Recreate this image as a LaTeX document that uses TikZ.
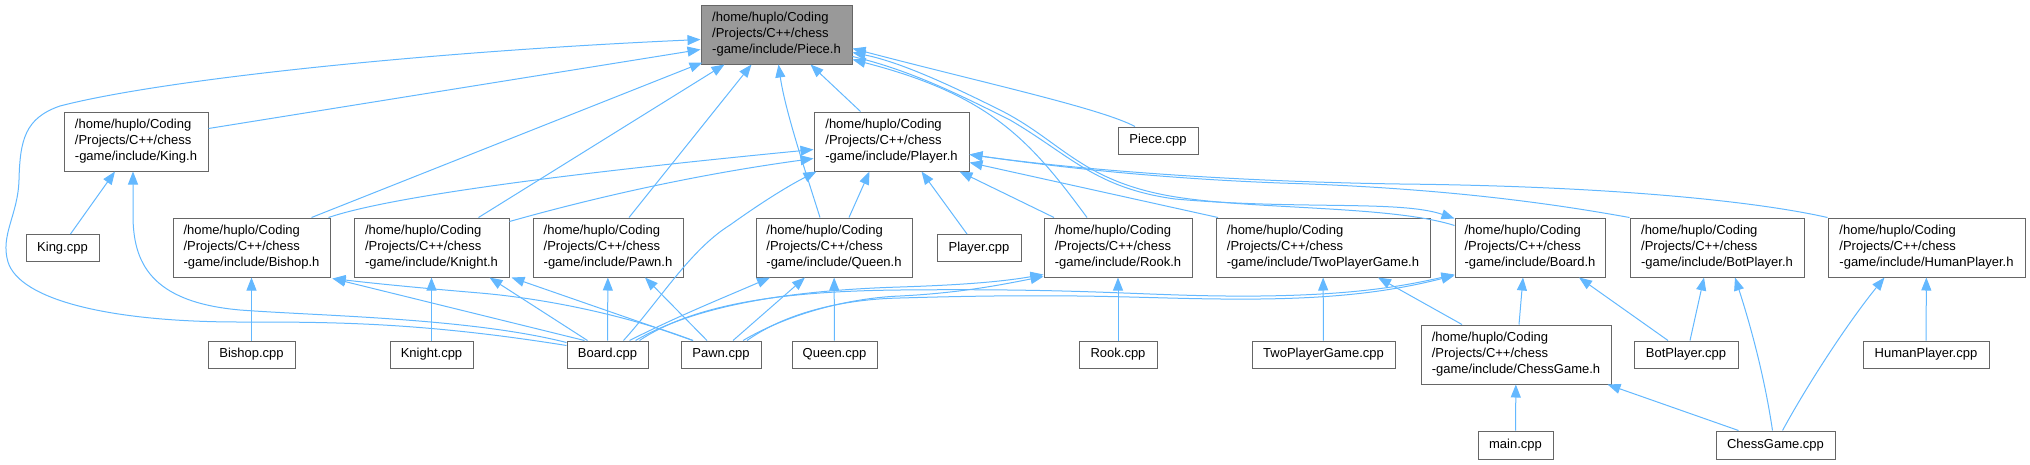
\documentclass[tikz,border=0pt]{standalone}
\usepackage{fontspec}
\setmainfont{Liberation Sans}
\usetikzlibrary{arrows.meta}
\definecolor{edgeblue}{HTML}{63B8FF}
\definecolor{boxgray}{HTML}{666666}
\definecolor{mainfill}{HTML}{999999}
\newcommand{\hpath}[1]{/home/huplo/Coding\\/Projects/C++/chess\\-game/include/#1}

\begin{document}
\begin{tikzpicture}[x=1pt, y=-1pt,
    srcbox/.style={draw=boxgray, line width=1pt, fill=white, inner sep=0pt,
                   minimum height=27, font=\fontsize{13}{16}\selectfont},
    hdrbox/.style={srcbox, minimum height=59, align=left},
    dep/.style={draw=edgeblue, line width=1pt, -{Triangle[length=13pt, width=10pt]}}]
    \useasboundingbox (0,0) rectangle (2030,464);

    % headers
    \node[hdrbox, fill=mainfill, minimum width=151] (pieceh) at (776.5,34.5) {\hpath{Piece.h}};
    \node[hdrbox, minimum width=144] (kingh) at (136,141.5) {\hpath{King.h}};
    \node[hdrbox, minimum width=155] (playerh) at (891.5,141.5) {\hpath{Player.h}};
    \node[hdrbox, minimum width=157] (bishoph) at (251.5,247.5) {\hpath{Bishop.h}};
    \node[hdrbox, minimum width=155] (knighth) at (431.5,247.5) {\hpath{Knight.h}};
    \node[hdrbox, minimum width=150] (pawnh) at (608,247.5) {\hpath{Pawn.h}};
    \node[hdrbox, minimum width=156] (queenh) at (834,247.5) {\hpath{Queen.h}};
    \node[hdrbox, minimum width=148] (rookh) at (1118,247.5) {\hpath{Rook.h}};
    \node[hdrbox, minimum width=214] (twoh) at (1323,247.5) {\hpath{TwoPlayerGame.h}};
    \node[hdrbox, minimum width=150] (boardh) at (1530,247.5) {\hpath{Board.h}};
    \node[hdrbox, minimum width=174] (botplayerh) at (1717,247.5) {\hpath{BotPlayer.h}};
    \node[hdrbox, minimum width=197] (humanplayerh) at (1926.5,247.5) {\hpath{HumanPlayer.h}};
    \node[hdrbox, minimum width=190] (chessh) at (1516,354.5) {\hpath{ChessGame.h}};

    % sources
    \node[srcbox, minimum width=80] (piececpp) at (1158,140.5) {Piece.cpp};
    \node[srcbox, minimum width=73] (kingcpp) at (62.5,248) {King.cpp};
    \node[srcbox, minimum width=84] (playercpp) at (979,248) {Player.cpp};
    \node[srcbox, minimum width=87] (bishopcpp) at (251.5,354.5) {Bishop.cpp};
    \node[srcbox, minimum width=83] (knightcpp) at (431.5,354.5) {Knight.cpp};
    \node[srcbox, minimum width=81] (boardcpp) at (607.5,354.5) {Board.cpp};
    \node[srcbox, minimum width=80] (pawncpp) at (721,354.5) {Pawn.cpp};
    \node[srcbox, minimum width=85] (queencpp) at (834.5,354.5) {Queen.cpp};
    \node[srcbox, minimum width=78] (rookcpp) at (1118,354.5) {Rook.cpp};
    \node[srcbox, minimum width=143] (twocpp) at (1323.5,354.5) {TwoPlayerGame.cpp};
    \node[srcbox, minimum width=104] (botplayercpp) at (1686,354.5) {BotPlayer.cpp};
    \node[srcbox, minimum width=126] (humanplayercpp) at (1926,354.5) {HumanPlayer.cpp};
    \node[srcbox, minimum width=75, minimum height=28] (maincpp) at (1515.5,445) {main.cpp};
    \node[srcbox, minimum width=119, minimum height=28] (chesscpp) at (1775.5,445) {ChessGame.cpp};

    % King.h
    \draw[dep] ([xshift=8]kingcpp.north) -- ([xshift=-21]kingh.south);
    \draw[dep] ([yshift=12]boardcpp.west) .. controls (470,318) and (320,316) .. (240,310)
        .. controls (150,302) and (133,262) .. (133,215) -- ([xshift=-3]kingh.south);

    % Piece.h
    \draw[dep] ([yshift=9]boardcpp.west) .. controls (420,322) and (330,322) .. (240,322)
        .. controls (110,322) and (20,300) .. (8,262)
        .. controls (0,235) and (18,215) .. (19,180)
        .. controls (20,140) and (25,118) .. (60,106)
        .. controls (160,80) and (420,52) .. ([yshift=-5]pieceh.west);
    \draw[dep] ([yshift=13]kingh.east) -- ([yshift=-15]pieceh.west);
    \draw[dep] ([xshift=60]bishoph.north) -- ([xshift=2,yshift=2]pieceh.south west);
    \draw[dep] ([xshift=47]knighth.north) -- ([xshift=-52]pieceh.south);
    \draw[dep] ([xshift=21]pawnh.north) -- ([xshift=-25]pieceh.south);
    \draw[dep] ([xshift=-14]queenh.north) .. controls (805,170) and (785,110) .. ([xshift=2]pieceh.south);
    \draw[dep] ([xshift=-31]playerh.north) -- ([xshift=34]pieceh.south);
    \draw[dep] ([xshift=-23]piececpp.north) .. controls (1100,108) and (980,82) .. ([yshift=-14]pieceh.east);
    \draw[dep] ([xshift=-31]rookh.north) .. controls (1030,140) and (990,95) .. ([yshift=-25]pieceh.east);

    % Board.h and Piece.h both ways
    \draw[dep] ([yshift=22]boardh.west) .. controls (1390,205) and (1250,210) .. (1170,196)
        .. controls (1080,180) and (1060,140) .. (1000,110)
        .. controls (950,85) and (900,62) .. ([yshift=-18]pieceh.east);
    \draw[dep] ([yshift=-22]pieceh.east) .. controls (910,70) and (960,95) .. (1010,120)
        .. controls (1070,155) and (1095,188) .. (1175,199)
        .. controls (1300,210) and (1400,200) .. ([yshift=-1]boardh.north west);

    % Player.h
    \draw[dep] ([xshift=-2]bishoph.north east) .. controls (380,200) and (520,178) .. ([yshift=-8]playerh.west);
    \draw[dep] ([yshift=-4]knighth.north east) .. controls (600,196) and (700,174) .. ([yshift=-17]playerh.west);
    \draw[dep] ([xshift=15]queenh.north) -- ([xshift=-22]playerh.south);
    \draw[dep] ([xshift=16]boardcpp.north) .. controls (660,300) and (690,250) .. (730,225)
        .. controls (765,200) and (790,185) .. ([xshift=3]playerh.south west);
    \draw[dep] ([xshift=-12]playercpp.north) -- ([xshift=30]playerh.south);
    \draw[dep] ([xshift=-64]rookh.north) -- ([xshift=68]playerh.south);
    \draw[dep] ([xshift=-105]twoh.north) -- ([yshift=-21]playerh.east);
    \draw[dep] (botplayerh.north west) .. controls (1560,205) and (1450,188) .. (1280,183)
        .. controls (1150,178) and (1050,166) .. ([yshift=-13]playerh.east);
    \draw[dep] (humanplayerh.north west) .. controls (1750,200) and (1600,186) .. (1400,184)
        .. controls (1200,181) and (1050,166) .. ([yshift=-13]playerh.east);

    % pieces from below
    \draw[dep] (bishopcpp) -- (bishoph);
    \draw[dep] ([xshift=-23]boardcpp.north) -- ([xshift=2,yshift=-1]bishoph.south east);
    \draw[dep] ([xshift=-28]pawncpp.north) .. controls (640,320) and (560,300) .. (480,293)
        .. controls (420,288) and (370,283) .. ([xshift=2,yshift=-1]bishoph.south east);
    \draw[dep] (knightcpp) -- (knighth);
    \draw[dep] ([xshift=-20]boardcpp.north) -- ([xshift=58]knighth.south);
    \draw[dep] ([xshift=-28]pawncpp.north) -- ([xshift=2]knighth.south east);
    \draw[dep] (boardcpp) -- (pawnh);
    \draw[dep] ([xshift=-14]pawncpp.north) -- ([xshift=37]pawnh.south);
    \draw[dep] ([xshift=22]boardcpp.north) .. controls (680,315) and (730,295) .. ([xshift=-64]queenh.south);
    \draw[dep] ([xshift=12]pawncpp.north) -- ([xshift=-29]queenh.south);
    \draw[dep] (queencpp) -- (queenh);

    % Rook.h and Board.h from below
    \draw[dep] ([xshift=28]boardcpp.north) .. controls (700,303) and (800,290) .. (900,287)
        .. controls (960,285) and (1000,282) .. ([yshift=3]rookh.south west);
    \draw[dep] ([xshift=22]pawncpp.north) .. controls (790,313) and (850,298) .. (900,296)
        .. controls (960,293) and (1000,285) .. ([yshift=1]rookh.south west);
    \draw[dep] (rookcpp) -- (rookh);
    \draw[dep] ([xshift=32]boardcpp.north) .. controls (700,300) and (800,291) .. (900,290)
        .. controls (1100,288) and (1150,297) .. (1260,296)
        .. controls (1350,295) and (1400,287) .. ([yshift=3]boardh.south west);
    \draw[dep] ([xshift=26]pawncpp.north) .. controls (790,310) and (850,299) .. (900,298)
        .. controls (1100,292) and (1150,300) .. (1260,299)
        .. controls (1350,298) and (1400,289) .. ([yshift=2]boardh.south west);

    % game classes
    \draw[dep] (twocpp) -- (twoh);
    \draw[dep] ([xshift=-54]chessh.north) -- ([xshift=55]twoh.south);
    \draw[dep] ([xshift=3]chessh.north) -- ([xshift=-7]boardh.south);
    \draw[dep] ([xshift=-18]botplayercpp.north) -- ([xshift=49]boardh.south);
    \draw[dep] ([xshift=4]botplayercpp.north) -- ([xshift=-13]botplayerh.south);
    \draw[dep] ([xshift=-3]chesscpp.north) .. controls (1765,380) and (1752,330) .. ([xshift=18]botplayerh.south);
    \draw[dep] ([xshift=7]chesscpp.north) .. controls (1810,380) and (1850,320) .. ([xshift=-42]humanplayerh.south);
    \draw[dep] (humanplayercpp) -- (humanplayerh);
    \draw[dep] (maincpp) -- (chessh);
    \draw[dep] ([xshift=-37]chesscpp.north) -- ([xshift=-4]chessh.south east);
\end{tikzpicture}
\end{document}
